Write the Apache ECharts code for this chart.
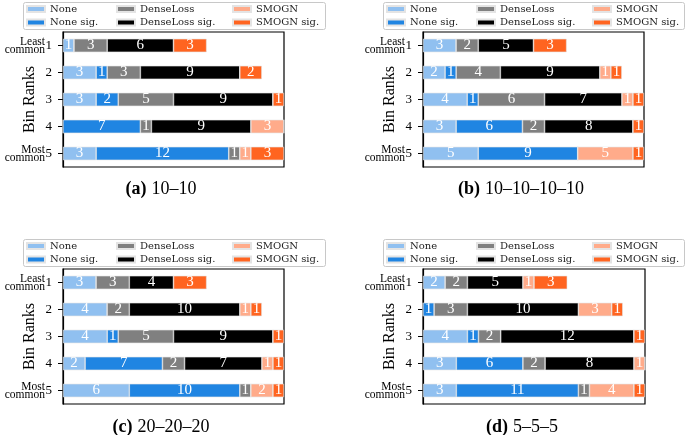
<!DOCTYPE html>
<html><head><meta charset="utf-8">
<script src="https://cdn.jsdelivr.net/npm/echarts@6/dist/echarts.min.js"></script>
<style>html,body{margin:0;padding:0;background:#fff}#c{width:685px;height:435px}</style>
</head><body><div id="c"></div>
<script>
// ---------- data ----------
const ranks = ['1', '2', '3', '4', '5'];
const rankNotes = ['Least\ncommon', '', '', '', 'Most\ncommon'];
const seriesNames = ['None', 'None sig.', 'DenseLoss', 'DenseLoss sig.', 'SMOGN', 'SMOGN sig.'];
const seriesColors = ['#90c0f0', '#2085e2', '#808080', '#000000', '#ffab8a', '#ff6420'];
const captions = [['(a)', '10–10'], ['(b)', '10–10–10–10'], ['(c)', '20–20–20'], ['(d)', '5–5–5']];
const xMax = 20;

// panel (a) 10–10
const a_None = [1, 3, 3, 0, 3];
const a_NoneSig = [0, 1, 2, 7, 12];
const a_Dense = [3, 3, 5, 1, 1];
const a_DenseSig = [6, 9, 9, 9, 0];
const a_Smogn = [0, 0, 0, 3, 1];
const a_SmognSig = [3, 2, 1, 0, 3];
// panel (b) 10–10–10–10
const b_None = [3, 2, 4, 3, 5];
const b_NoneSig = [0, 1, 1, 6, 9];
const b_Dense = [2, 4, 6, 2, 0];
const b_DenseSig = [5, 9, 7, 8, 0];
const b_Smogn = [0, 1, 1, 0, 5];
const b_SmognSig = [3, 1, 1, 1, 1];
// panel (c) 20–20–20
const c_None = [3, 4, 4, 2, 6];
const c_NoneSig = [0, 0, 1, 7, 10];
const c_Dense = [3, 2, 5, 2, 1];
const c_DenseSig = [4, 10, 9, 7, 0];
const c_Smogn = [0, 1, 0, 1, 2];
const c_SmognSig = [3, 1, 1, 1, 1];
// panel (d) 5–5–5
const d_None = [2, 0, 4, 3, 3];
const d_NoneSig = [0, 1, 1, 6, 11];
const d_Dense = [2, 3, 2, 2, 1];
const d_DenseSig = [5, 10, 12, 8, 0];
const d_Smogn = [1, 3, 0, 1, 4];
const d_SmognSig = [3, 1, 1, 0, 1];

const panels = [
  [a_None, a_NoneSig, a_Dense, a_DenseSig, a_Smogn, a_SmognSig],
  [b_None, b_NoneSig, b_Dense, b_DenseSig, b_Smogn, b_SmognSig],
  [c_None, c_NoneSig, c_Dense, c_DenseSig, c_Smogn, c_SmognSig],
  [d_None, d_NoneSig, d_Dense, d_DenseSig, d_Smogn, d_SmognSig]
];

// ---------- layout ----------
const SERIF = 'Liberation Serif';
const LEG = 'DejaVu Serif';
const grids = [
  {left: 63, top: 32, width: 221, height: 135},
  {left: 423, top: 32, width: 221, height: 135},
  {left: 63, top: 269, width: 221, height: 135},
  {left: 423, top: 269, width: 222, height: 135}
];
const legendBoxes = [[23, 2, 302, 27], [383, 2, 301, 27], [23, 239, 302, 27], [383, 239, 301, 27]];
const legendCols = [3, 93, 209];
const captionPos = [[161, 180], [521, 180], [161, 418], [522, 418]];

const option = {
  animation: false,
  backgroundColor: '#fff',
  grid: [], xAxis: [], yAxis: [], series: [], legend: [], title: [], graphic: []
};

panels.forEach((pd, p) => {
  const g = grids[p];
  option.grid.push(Object.assign({show: true, borderColor: '#000', borderWidth: 1.2, backgroundColor: 'transparent'}, g));
  option.xAxis.push({
    gridIndex: p, type: 'value', min: 0, max: xMax,
    axisLine: {show: false}, axisTick: {show: false}, axisLabel: {show: false}, splitLine: {show: false}
  });
  option.yAxis.push({
    gridIndex: p, type: 'category', data: ranks, inverse: true,
    name: 'Bin Ranks', nameLocation: 'middle', nameGap: 25, nameRotate: 90,
    nameTextStyle: {fontFamily: SERIF, fontSize: 16, color: '#000'},
    axisLine: {show: true, lineStyle: {color: '#000', width: 1.2}},
    axisTick: {show: true, alignWithLabel: true, length: 5, lineStyle: {color: '#000'}},
    axisLabel: {fontFamily: SERIF, fontSize: 13, color: '#000', margin: 11}
  });
  option.yAxis.push({
    gridIndex: p, type: 'category', data: rankNotes, inverse: true, position: 'left',
    axisLine: {show: false}, axisTick: {show: false}, splitLine: {show: false},
    axisLabel: {fontFamily: SERIF, fontSize: 11.5, lineHeight: 8, color: '#000', margin: 18, align: 'right'}
  });
  pd.forEach((vals, s) => {
    option.series.push({
      type: 'bar', name: seriesNames[s], stack: 'p' + p,
      xAxisIndex: p, yAxisIndex: 2 * p, barWidth: '50%',
      data: vals,
      itemStyle: {color: seriesColors[s], borderColor: '#e4e4e4', borderWidth: 0.6},
      label: {
        show: true, position: 'inside', color: '#fff', fontFamily: SERIF, fontSize: 15,
        formatter: (q) => q.value ? String(q.value) : ''
      }
    });
  });
  const box = legendBoxes[p];
  for (let k = 0; k < 3; k++) {
    option.legend.push({
      orient: 'vertical', left: box[0] + legendCols[k], top: box[1] + 2,
      padding: 0, itemGap: 3.5, itemWidth: 18, itemHeight: 6, icon: 'rect',
      selectedMode: false,
      data: [seriesNames[2 * k], seriesNames[2 * k + 1]],
      textStyle: {fontFamily: LEG, fontSize: 10, lineHeight: 10, color: '#222'}
    });
  }
  option.graphic.push({
    type: 'rect', silent: true, z: -1,
    shape: {x: box[0] + 0.5, y: box[1] + 0.5, width: box[2], height: box[3], r: 2},
    style: {fill: '#fff', stroke: '#c8c8c8', lineWidth: 1}
  });
  option.title.push({
    left: captionPos[p][0], top: captionPos[p][1], textAlign: 'center', padding: 0,
    text: '{b|' + captions[p][0] + '} {n|' + captions[p][1] + '}',
    textStyle: {fontWeight: 'normal', rich: {
      b: {fontFamily: SERIF, fontWeight: 'bold', fontSize: 18, color: '#000'},
      n: {fontFamily: SERIF, fontWeight: 'normal', fontSize: 18, color: '#000'}
    }}
  });
});

const chart = echarts.init(document.getElementById('c'), null, {renderer: 'canvas'});
chart.setOption(option);
</script>
</body></html>
